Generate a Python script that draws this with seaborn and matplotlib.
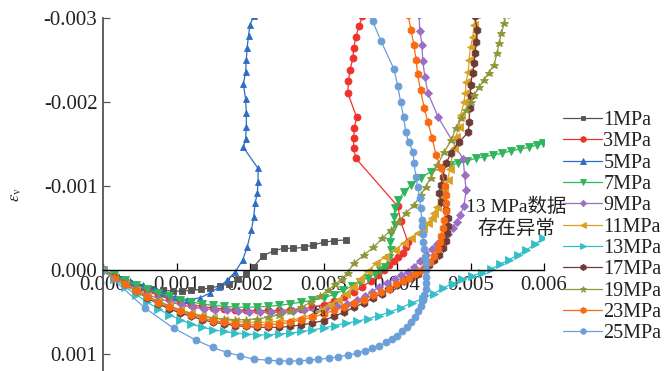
import matplotlib
matplotlib.use("Agg")
import matplotlib.pyplot as plt
import seaborn as sns
import pandas as pd

# ---------------- data (strain values) ----------------
labels = ["1MPa", "3MPa", "5MPa", "7MPa", "9MPa", "11MPa", "13MPa",
          "17MPa", "19MPa", "23MPa", "25MPa"]

s1_x = [0, 0.00018, 0.00036, 0.00052, 0.00068, 0.00082, 0.00095, 0.00108, 0.0012, 0.00133,
        0.00146, 0.00159, 0.00172, 0.00184, 0.00195, 0.00205, 0.00218, 0.00232, 0.00246, 0.00259,
        0.00273, 0.00286, 0.003, 0.00314, 0.00331]
s1_y = [0, 0.00008, 0.00015, 0.0002, 0.00023, 0.00024, 0.00025, 0.00025, 0.00024, 0.00023,
        0.00021, 0.00019, 0.00016, 0.00011, 0.00005, -0.00004, -0.00017, -0.00023, -0.00026, -0.00026,
        -0.00027, -0.0003, -0.00033, -0.00035, -0.00036]

s3_x = [0, 0.00015, 0.0003, 0.00045, 0.0006, 0.00075, 0.0009, 0.00105, 0.0012, 0.00135,
        0.0015, 0.00165, 0.0018, 0.00195, 0.0021, 0.00225, 0.0024, 0.00255, 0.0027, 0.00285,
        0.003, 0.00314, 0.00328, 0.00341, 0.00353, 0.00364, 0.00374, 0.00382, 0.00389, 0.00396,
        0.00402, 0.00408, 0.00412, 0.00415, 0.00405, 0.00401, 0.00344, 0.00341, 0.00341, 0.00342,
        0.00345, 0.00333, 0.00334, 0.00336, 0.0034, 0.00341, 0.00344, 0.00348, 0.00353]
s3_y = [0, 0.00007, 0.00013, 0.00019, 0.00025, 0.0003, 0.00034, 0.00038, 0.00041, 0.00043,
        0.00045, 0.00046, 0.00047, 0.00048, 0.00048, 0.00048, 0.00048, 0.00047, 0.00046, 0.00044,
        0.00041, 0.00037, 0.00032, 0.00026, 0.0002, 0.00013, 0.00006, 0.0, -0.00006, -0.00011,
        -0.00016, -0.0002, -0.00027, -0.00033, -0.00058, -0.00076, -0.00133, -0.00145, -0.00157, -0.00169,
        -0.00182, -0.00211, -0.00225, -0.00238, -0.00252, -0.00264, -0.00277, -0.0029, -0.00302]

s5_x = [0, 0.00018, 0.00037, 0.00055, 0.0007, 0.00082, 0.00098, 0.00114, 0.00132, 0.00146,
        0.00158, 0.00169, 0.0018, 0.0019, 0.00196, 0.00202, 0.00205, 0.00207, 0.0021, 0.00211,
        0.00211, 0.00191, 0.00194, 0.00195, 0.00195, 0.00194, 0.00191, 0.00194, 0.00195, 0.00196,
        0.00198, 0.002, 0.00205]
s5_y = [0, 0.00007, 0.00013, 0.00018, 0.00023, 0.00027, 0.00032, 0.00035, 0.00033, 0.00027,
        0.0002, 0.00012, 0.00002, -0.00012, -0.00027, -0.00048, -0.00063, -0.0008, -0.00092, -0.00105,
        -0.00121, -0.00146, -0.00156, -0.0017, -0.00187, -0.00204, -0.00221, -0.00236, -0.0025, -0.00264,
        -0.00279, -0.00292, -0.00302]

s7_x = [0, 0.00015, 0.0003, 0.00045, 0.0006, 0.00075, 0.0009, 0.00105, 0.0012, 0.00135,
        0.0015, 0.00165, 0.0018, 0.00195, 0.0021, 0.00225, 0.0024, 0.00255, 0.0027, 0.00285,
        0.003, 0.00314, 0.00327, 0.00339, 0.0035, 0.0036, 0.0037, 0.00377, 0.00383, 0.00389,
        0.00392, 0.0039, 0.00392, 0.00397, 0.00396, 0.00397, 0.00402, 0.00409, 0.00419, 0.00432,
        0.00446, 0.0046, 0.00472, 0.00483, 0.00495, 0.00507, 0.00519, 0.00531, 0.00543, 0.00555,
        0.00567, 0.00579, 0.00591, 0.00599]
s7_y = [0, 0.00006, 0.00012, 0.00018, 0.00023, 0.00027, 0.00031, 0.00035, 0.00038, 0.0004,
        0.00042, 0.00043, 0.00044, 0.00044, 0.00044, 0.00043, 0.00042, 0.0004, 0.00038, 0.00036,
        0.00033, 0.00029, 0.00024, 0.00019, 0.00014, 0.00009, 0.00004, 0.0, -0.00004, -0.00014,
        -0.00024, -0.00033, -0.00044, -0.00054, -0.00063, -0.00074, -0.00083, -0.00093, -0.00101, -0.0011,
        -0.00117, -0.00121, -0.00125, -0.00127, -0.0013, -0.00133, -0.00135, -0.00137, -0.00139, -0.00142,
        -0.00144, -0.00146, -0.00149, -0.00151]

s9_x = [0, 0.00015, 0.0003, 0.00045, 0.0006, 0.00076, 0.00092, 0.00108, 0.00123, 0.00138,
        0.00153, 0.00169, 0.00184, 0.00199, 0.00214, 0.00229, 0.00244, 0.00259, 0.00274, 0.00289,
        0.00304, 0.00318, 0.00332, 0.00345, 0.00356, 0.00366, 0.00375, 0.00387, 0.00397, 0.00406,
        0.00415, 0.00423, 0.00431, 0.00439, 0.00447, 0.00455, 0.00463, 0.0047, 0.00476, 0.00481,
        0.00486, 0.00491, 0.00494, 0.00492, 0.0049, 0.00456, 0.00442, 0.00438, 0.00435, 0.00434,
        0.00431, 0.0043]
s9_y = [0, 0.00008, 0.00015, 0.00022, 0.00029, 0.00034, 0.00038, 0.00042, 0.00044, 0.00046,
        0.00047, 0.00048, 0.00049, 0.0005, 0.0005, 0.0005, 0.0005, 0.00049, 0.00048, 0.00047,
        0.00045, 0.00043, 0.0004, 0.00036, 0.00031, 0.00026, 0.0002, 0.00015, 0.0001, 0.00006,
        0.00002, -0.00004, -0.00011, -0.00018, -0.00025, -0.00031, -0.00037, -0.00043, -0.0005, -0.00057,
        -0.00066, -0.00076, -0.00095, -0.00113, -0.00132, -0.00182, -0.00211, -0.0023, -0.00249, -0.00268,
        -0.00285, -0.00304]

s11_x = [0, 0.00015, 0.0003, 0.00045, 0.0006, 0.00075, 0.0009, 0.00105, 0.0012, 0.00135,
         0.0015, 0.00165, 0.0018, 0.00195, 0.0021, 0.00225, 0.0024, 0.00255, 0.0027, 0.00284,
         0.00297, 0.00309, 0.0032, 0.0033, 0.0034, 0.0035, 0.0036, 0.00372, 0.00384, 0.00397,
         0.00409, 0.00419, 0.00428, 0.00436, 0.00442, 0.00447, 0.0045, 0.00455, 0.0046, 0.00464,
         0.00469, 0.00472, 0.00477, 0.0048, 0.00484, 0.00487, 0.00491, 0.00493, 0.00494, 0.00497,
         0.00498, 0.005, 0.00503, 0.00505, 0.00507]
s11_y = [0, 0.00008, 0.00016, 0.00024, 0.00031, 0.00037, 0.00042, 0.00047, 0.00051, 0.00054,
         0.00057, 0.00059, 0.00061, 0.00062, 0.00062, 0.00062, 0.00061, 0.0006, 0.00057, 0.00053,
         0.00048, 0.00042, 0.00035, 0.00028, 0.0002, 0.0001, 0.00001, -0.00008, -0.00016, -0.00024,
         -0.00032, -0.00038, -0.00044, -0.0005, -0.00056, -0.00062, -0.00068, -0.00075, -0.00085, -0.00095,
         -0.00107, -0.0012, -0.00145, -0.00158, -0.0017, -0.00185, -0.002, -0.00211, -0.00224, -0.00236,
         -0.0025, -0.00265, -0.00277, -0.00292, -0.00305]

s13_x = [0, 0.00015, 0.0003, 0.00045, 0.0006, 0.00075, 0.0009, 0.00105, 0.0012, 0.00135,
         0.0015, 0.00165, 0.0018, 0.00195, 0.0021, 0.00225, 0.0024, 0.00255, 0.0027, 0.00285,
         0.003, 0.00315, 0.0033, 0.00345, 0.0036, 0.00375, 0.0039, 0.00405, 0.0042, 0.00435,
         0.0045, 0.00463, 0.00476, 0.00489, 0.00502, 0.00515, 0.00528, 0.0054, 0.00552, 0.00564,
         0.00576, 0.00588, 0.00599]
s13_y = [0, 0.0001, 0.0002, 0.00029, 0.00038, 0.00046, 0.00053, 0.00059, 0.00064, 0.00068,
         0.00071, 0.00073, 0.00075, 0.00076, 0.00077, 0.00077, 0.00076, 0.00075, 0.00073, 0.00071,
         0.00069, 0.00066, 0.00063, 0.00061, 0.00058, 0.00054, 0.0005, 0.00045, 0.00039, 0.00034,
         0.00028, 0.00021, 0.00016, 0.00011, 0.00007, 0.00003, -0.00001, -0.00007, -0.00012, -0.00018,
         -0.00024, -0.00031, -0.00038]

s17_x = [0, 0.00015, 0.0003, 0.00045, 0.0006, 0.00075, 0.0009, 0.00105, 0.0012, 0.00135,
         0.0015, 0.00165, 0.0018, 0.00195, 0.0021, 0.00225, 0.0024, 0.00255, 0.0027, 0.00285,
         0.003, 0.00314, 0.00328, 0.00342, 0.00355, 0.00367, 0.00379, 0.0039, 0.004, 0.0041,
         0.00419, 0.00428, 0.00437, 0.00444, 0.0045, 0.00457, 0.00462, 0.00466, 0.00468, 0.00469,
         0.00469, 0.00467, 0.0046, 0.00457, 0.0046, 0.00462, 0.00467, 0.00473, 0.00484, 0.00497,
         0.00498, 0.00499, 0.005, 0.005, 0.00503, 0.00505, 0.00506, 0.00508, 0.00509, 0.00506]
s17_y = [0, 0.00008, 0.00017, 0.00025, 0.00033, 0.0004, 0.00046, 0.00051, 0.00055, 0.00059,
         0.00062, 0.00064, 0.00066, 0.00067, 0.00068, 0.00068, 0.00068, 0.00067, 0.00065, 0.00063,
         0.0006, 0.00055, 0.0005, 0.00044, 0.00039, 0.00033, 0.00028, 0.00023, 0.00018, 0.00013,
         0.00009, 0.00004, -0.00001, -0.00006, -0.00012, -0.00018, -0.00026, -0.00035, -0.00044, -0.00053,
         -0.00062, -0.00071, -0.00081, -0.00092, -0.00101, -0.00111, -0.00127, -0.00139, -0.00152, -0.00164,
         -0.00176, -0.00193, -0.00207, -0.0022, -0.00235, -0.00246, -0.00258, -0.00271, -0.00286, -0.00302]

s19_x = [0, 0.00015, 0.0003, 0.00045, 0.0006, 0.00075, 0.0009, 0.00105, 0.0012, 0.00135,
         0.0015, 0.00165, 0.0018, 0.00195, 0.0021, 0.00225, 0.0024, 0.00255, 0.0027, 0.00283,
         0.00295, 0.00306, 0.00316, 0.00325, 0.00333, 0.00341, 0.00355, 0.00368, 0.0038, 0.00392,
         0.00402, 0.00412, 0.00423, 0.00432, 0.00439, 0.00446, 0.00455, 0.00464, 0.00474, 0.0048,
         0.00487, 0.00494, 0.005, 0.00505, 0.00512, 0.00518, 0.00525, 0.00532, 0.00536, 0.00539,
         0.00542, 0.00546, 0.00548]
s19_y = [0, 0.00008, 0.00016, 0.00024, 0.00031, 0.00037, 0.00043, 0.00048, 0.00052, 0.00055,
         0.00057, 0.00058, 0.00059, 0.00059, 0.00058, 0.00056, 0.00053, 0.00049, 0.00044, 0.00038,
         0.00031, 0.00024, 0.00017, 0.0001, 0.00003, -0.00008, -0.00018, -0.00027, -0.00038, -0.00048,
         -0.00057, -0.00068, -0.00077, -0.00089, -0.00099, -0.0011, -0.00125, -0.0014, -0.00155, -0.00169,
         -0.00181, -0.0019, -0.002, -0.00208, -0.00218, -0.00226, -0.00235, -0.00244, -0.00258, -0.0027,
         -0.00282, -0.00294, -0.00304]

s23_x = [0, 0.00015, 0.0003, 0.00045, 0.0006, 0.00075, 0.0009, 0.00105, 0.0012, 0.00135,
         0.0015, 0.00165, 0.0018, 0.00195, 0.0021, 0.00225, 0.0024, 0.00255, 0.0027, 0.00285,
         0.003, 0.00314, 0.00328, 0.00342, 0.00355, 0.00367, 0.00378, 0.00389, 0.00399, 0.00408,
         0.00416, 0.00424, 0.00431, 0.00438, 0.00445, 0.00451, 0.00456, 0.00458, 0.0046, 0.00462,
         0.00464, 0.00466, 0.00467, 0.00467, 0.00465, 0.0046, 0.00453, 0.00448, 0.00442, 0.00437,
         0.00432, 0.00428, 0.00426, 0.00423, 0.00419, 0.00415]
s23_y = [0, 0.00009, 0.00017, 0.00025, 0.00032, 0.00039, 0.00044, 0.00049, 0.00053, 0.00057,
         0.0006, 0.00062, 0.00064, 0.00065, 0.00065, 0.00065, 0.00064, 0.00062, 0.00059, 0.00056,
         0.00052, 0.00048, 0.00044, 0.00039, 0.00035, 0.0003, 0.00026, 0.00022, 0.00017, 0.00013,
         0.00009, 0.00005, 0.00001, -0.00004, -0.0001, -0.00017, -0.00025, -0.00033, -0.00041, -0.0005,
         -0.0006, -0.0007, -0.0008, -0.0009, -0.001, -0.00122, -0.00137, -0.00157, -0.00176, -0.00193,
         -0.00214, -0.00233, -0.0025, -0.00268, -0.00286, -0.00304]

s25_x = [0, 0.00057, 0.00096, 0.00126, 0.00149, 0.00169, 0.00187, 0.00205, 0.00224, 0.00239,
         0.00253, 0.00266, 0.0028, 0.00293, 0.00307, 0.0032, 0.00333, 0.00345, 0.00356, 0.00366,
         0.00376, 0.00385, 0.00393, 0.004, 0.00407, 0.00413, 0.00419, 0.00424, 0.00428, 0.00432,
         0.00435, 0.00437, 0.00439, 0.0044, 0.0044, 0.0044, 0.00439, 0.00438, 0.00437, 0.00436,
         0.00435, 0.00434, 0.00434, 0.00432, 0.00431, 0.00428, 0.00426, 0.00423, 0.00422, 0.00416,
         0.00412, 0.00409, 0.00405, 0.00401, 0.00396, 0.00378, 0.00367, 0.00362]
s25_y = [0, 0.00045, 0.00069, 0.00083, 0.00092, 0.00098, 0.00102, 0.00106, 0.00107, 0.00108,
         0.00108, 0.00108, 0.00107, 0.00106, 0.00105, 0.00103, 0.00101, 0.00099, 0.00096, 0.00093,
         0.0009, 0.00086, 0.00082, 0.00078, 0.00073, 0.00068, 0.00062, 0.00056, 0.00049, 0.00043,
         0.00036, 0.00029, 0.00022, 0.00015, 0.00008, 0.0, -0.00008, -0.00016, -0.00025, -0.00034,
         -0.00043, -0.00052, -0.0006, -0.00074, -0.00086, -0.00099, -0.00111, -0.00127, -0.0014, -0.00152,
         -0.00164, -0.00182, -0.002, -0.00219, -0.00239, -0.00273, -0.00296, -0.00305]

x_ticks = [0.000, 0.001, 0.002, 0.003, 0.004, 0.005, 0.006]
x_tick_labels = ["0.000", "0.001", "0.002", "0.003", "0.004", "0.005", "0.006"]
y_ticks = [-0.003, -0.002, -0.001, 0.000, 0.001]
y_tick_labels = ["-0.003", "-0.002", "-0.001", "0.000", "0.001"]

note_text = "13 MPa数据\n存在异常"

# ---------------- styling ----------------
colors = ["#555555", "#f0322c", "#2f6dc4", "#2fb55c", "#9b6fc3", "#d9a126",
          "#34bfc8", "#6e3b37", "#8e9638", "#f86b12", "#6c9fd8"]
markers = ["s", "o", "^", "v", "D", "<", ">", "h", "*", "h", "o"]
msizes = [4.2, 5.0, 5.0, 5.2, 4.0, 5.2, 5.2, 5.5, 6.2, 5.5, 5.0]

series_x = [s1_x, s3_x, s5_x, s7_x, s9_x, s11_x, s13_x, s17_x, s19_x, s23_x, s25_x]
series_y = [s1_y, s3_y, s5_y, s7_y, s9_y, s11_y, s13_y, s17_y, s19_y, s23_y, s25_y]

sns.set_style("ticks")
plt.rcParams["font.family"] = ["Liberation Serif", "Noto Sans CJK SC", "DejaVu Sans"]
plt.rcParams["mathtext.fontset"] = "stix"

fig = plt.figure(figsize=(6.66, 3.71), dpi=100)
ax = fig.add_axes([103 / 666, 0.0, (544 - 103) / 666, 1 - 18 / 371])

for lab, xs, ys, c, m, ms in zip(labels, series_x, series_y, colors, markers, msizes):
    df = pd.DataFrame({"ea": xs, "ev": ys})
    sns.lineplot(data=df, x="ea", y="ev", sort=False, estimator=None, ax=ax,
                 color=c, marker=m, markersize=ms, markeredgecolor=c,
                 markeredgewidth=0.6, linewidth=0.9, label=lab, clip_on=True)

ax.set_xlim(0, 0.006)
ax.set_ylim(0.0012, -0.003)

ax.spines["top"].set_visible(False)
ax.spines["right"].set_visible(False)
ax.spines["bottom"].set_position(("data", 0))
ax.spines["bottom"].set_color("black")
ax.spines["bottom"].set_linewidth(1.0)
ax.spines["left"].set_color("#555555")
ax.spines["left"].set_linewidth(1.3)

ax.set_xticks(x_ticks)
ax.set_xticklabels(x_tick_labels)
ax.set_yticks(y_ticks)
ax.set_yticklabels(y_tick_labels)
ax.tick_params(axis="x", direction="in", length=5, width=0.9, pad=4,
               labelsize=15, colors="black", labelcolor="#222222")
ax.tick_params(axis="y", direction="in", length=5, width=0.9, pad=4,
               labelsize=15, colors="#555555", labelcolor="#222222")
ax.set_xlabel("")
ax.set_ylabel("")

fig.text(16 / 666, 1 - 195 / 371, r"$\varepsilon_\mathrm{v}$", rotation=90,
         ha="center", va="center", fontsize=12)
ax.text(0.00295, 0.00048, r"$\varepsilon_\mathrm{a}$", ha="center", va="center",
        fontsize=13)

ax.text(0.00562, -0.00062, note_text, ha="center", va="center", fontsize=14,
        linespacing=1.2, color="#222222", clip_on=False)

leg = ax.legend(loc="upper left", bbox_to_anchor=(563 / 666, 1 - 111 / 371),
                bbox_transform=fig.transFigure, frameon=False, fontsize=14.5,
                handlelength=1.95, handletextpad=0.05, labelspacing=0.11,
                borderpad=0, borderaxespad=0, markerscale=0.8)
for t in leg.get_texts():
    t.set_color("#222222")

fig.savefig("out.png", dpi=100)
